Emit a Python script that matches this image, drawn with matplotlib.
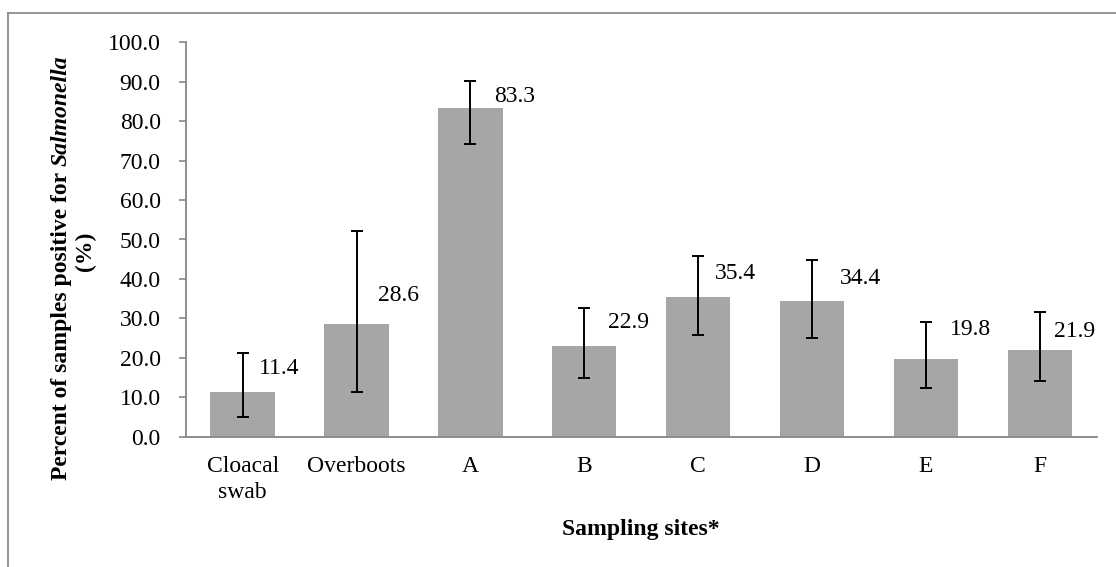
import matplotlib.pyplot as plt
from matplotlib.lines import Line2D

# 1. Data
sites = ["Cloacal\nswab", "Overboots", "A", "B", "C", "D", "E", "F"]
percent_pos = [11.4, 28.6, 83.3, 22.9, 35.4, 34.4, 19.8, 21.9]
ci_low = [5.1, 11.3, 74.3, 15.0, 25.9, 24.9, 12.4, 14.1]
ci_high = [21.3, 52.2, 90.2, 32.6, 45.9, 44.7, 29.2, 31.5]
yticks = [0, 10, 20, 30, 40, 50, 60, 70, 80, 90, 100]

# label offsets from bar top (pixels), placed by hand in the original
label_dx = [36.5, 42, 44, 44, 37, 48, 44.5, 35]
label_dy = [23.5, 28, 12, 24, 24, 23, 28.7, 19]

W, H = 1116, 567
FS = 17
plt.rcParams['font.family'] = ['Liberation Serif', 'DejaVu Serif']

fig = plt.figure(figsize=(W / 100, H / 100), dpi=100)
ax = fig.add_axes([185.7 / W, 1 - 436.7 / H, (1096.7 - 185.7) / W, (436.7 - 42.3) / H])

# 2. Bars with error bars
x = list(range(len(sites)))
err_lo = [v - lo for v, lo in zip(percent_pos, ci_low)]
err_hi = [hi - v for v, hi in zip(percent_pos, ci_high)]
ax.bar(x, percent_pos, width=0.565, color="#a6a6a6", zorder=2)
ax.errorbar(x, percent_pos, yerr=[err_lo, err_hi], fmt="none", ecolor="black",
            elinewidth=1.4, capsize=4.5, capthick=1.4, zorder=3)

for i, v in enumerate(percent_pos):
    ax.annotate(f"{v:.1f}", xy=(i, v), xytext=(label_dx[i] * 0.72, label_dy[i] * 0.72),
                textcoords="offset points", ha="center", va="center", fontsize=FS)

# 3. Axes styling
ax.set_xlim(-0.5, len(sites) - 0.5)
ax.set_ylim(0, 100)
ax.set_yticks(yticks)
ax.set_yticklabels([f"{t:.1f}" for t in yticks])
ax.set_xticks(x)
ax.set_xticklabels(sites, linespacing=1.3)
ax.tick_params(axis="y", length=5, width=1.2, color="#868686", pad=13, labelsize=FS)
ax.tick_params(axis="x", length=0, pad=14, labelsize=FS)
for s in ["top", "right"]:
    ax.spines[s].set_visible(False)
for s in ["left", "bottom"]:
    ax.spines[s].set_color("#868686")
    ax.spines[s].set_linewidth(1.3)

# 4. Axis titles
fig.text(641 / W, 1 - 530 / H, "Sampling sites*", ha="center", va="center",
         fontsize=FS, fontweight="bold")

part1 = "Percent of samples positive for "
part2 = "Salmonella"
renderer = fig.canvas.get_renderer()
t1 = fig.text(0, 0, part1, fontsize=FS, fontweight="bold")
t2 = fig.text(0, 0, part2, fontsize=FS, fontweight="bold", fontstyle="italic")
w1 = t1.get_window_extent(renderer).width
w2 = t2.get_window_extent(renderer).width
t1.remove()
t2.remove()
y_start = (H - 267.5) - (w1 + w2) / 2
fig.text(66.5 / W, y_start / H, part1, rotation=90, rotation_mode="anchor",
         ha="left", va="baseline", fontsize=FS, fontweight="bold")
fig.text(66.5 / W, (y_start + w1) / H, part2, rotation=90, rotation_mode="anchor",
         ha="left", va="baseline", fontsize=FS, fontweight="bold", fontstyle="italic")
fig.text(90.8 / W, 1 - 251 / H, "(%)", rotation=90, rotation_mode="anchor",
         ha="center", va="baseline", fontsize=FS, fontweight="bold")

# 5. Chart border (only left and top edges visible in the original)
fig.add_artist(Line2D([8.3 / W, 8.3 / W], [0, 1 - 12.7 / H], color="#8c8c8c", lw=1.3))
fig.add_artist(Line2D([8.3 / W, 1], [1 - 12.7 / H, 1 - 12.7 / H], color="#8c8c8c", lw=1.3))

fig.savefig("out.png", dpi=100)
